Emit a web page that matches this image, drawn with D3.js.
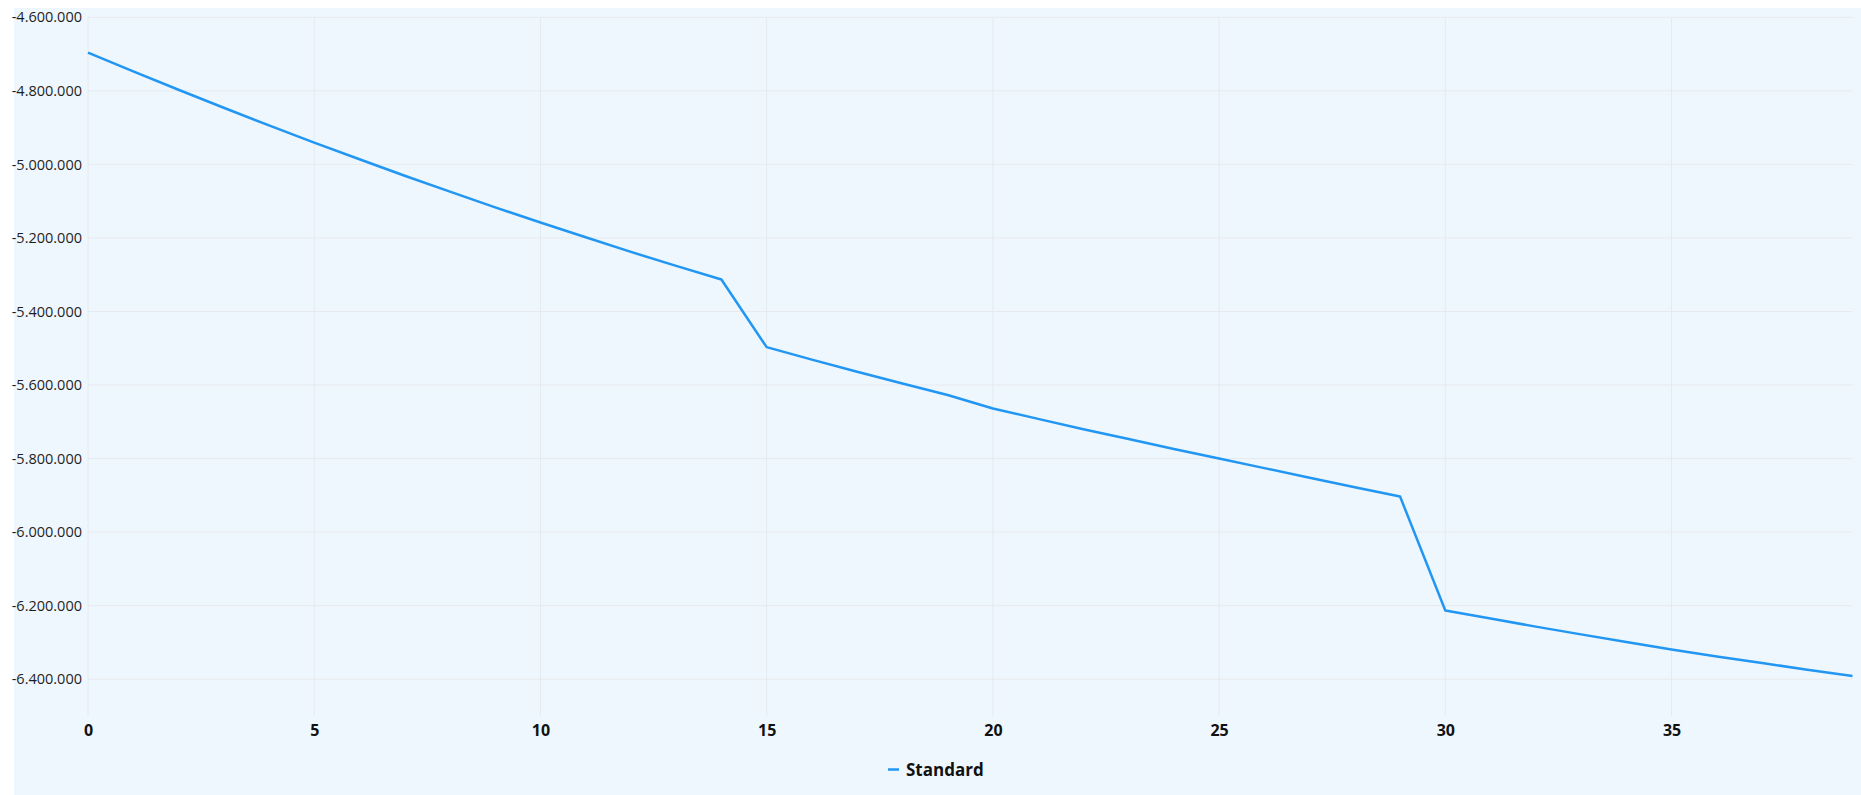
<!DOCTYPE html>
<html>
<head>
<meta charset="utf-8">
<script src="https://cdn.jsdelivr.net/npm/d3@7"></script>
<style>
  html, body { margin: 0; padding: 0; background: #ffffff; }
  svg { display: block; }
</style>
</head>
<body>
<svg id="chart" width="1861" height="795"></svg>
<script>
// ---- data ----
const seriesName = "Standard";
const periods = [0,1,2,3,4,5,6,7,8,9,10,11,12,13,14,15,16,17,18,19,20,21,22,23,24,25,26,27,28,29,30,31,32,33,34,35,36,37,38,39];
const standardValues = [
  -4696000, -4747000, -4797000, -4846000, -4894000, -4941000, -4986000, -5031000, -5074000, -5117000,
  -5158000, -5198000, -5238000, -5276000, -5313000, -5497000, -5531000, -5564000, -5596000, -5627000,
  -5664000, -5692000, -5720000, -5747000, -5774000, -5800000, -5826000, -5852000, -5878000, -5903000,
  -6213000, -6235000, -6257000, -6278000, -6299000, -6319000, -6338000, -6356000, -6374000, -6391000
];
const yTicks = [-4600000, -4800000, -5000000, -5200000, -5400000, -5600000, -5800000, -6000000, -6200000, -6400000];
const xTicks = [0, 5, 10, 15, 20, 25, 30, 35];
const yDomain = [-6500000, -4600000];
const xDomain = [0, 39];

// ---- layout ----
const W = 1861, H = 795;
const plot = { left: 88, right: 1852.5, top: 17.3, bottom: 716 };
const lineColor = "#2196F3";
const gridColor = "#e6eaee";
const font = "'Open Sans', 'Noto Sans', sans-serif";

const svg = d3.select("#chart");

svg.append("rect")
  .attr("x", 14).attr("y", 8)
  .attr("width", W - 14).attr("height", H - 8)
  .attr("fill", "#eff7fe");

const x = d3.scaleLinear().domain(xDomain).range([plot.left, plot.right]);
const y = d3.scaleLinear().domain(yDomain).range([plot.bottom, plot.top]);

const loc = d3.formatLocale({ decimal: ",", thousands: ".", grouping: [3], currency: ["", ""], minus: "-" });
const fmt = loc.format(",d");

// horizontal grid
svg.append("g")
  .selectAll("line")
  .data(yTicks)
  .join("line")
  .attr("x1", plot.left).attr("x2", plot.right)
  .attr("y1", d => y(d)).attr("y2", d => y(d))
  .attr("stroke", gridColor).attr("stroke-width", 1);

// vertical grid
svg.append("g")
  .selectAll("line")
  .data(xTicks)
  .join("line")
  .attr("x1", d => x(d)).attr("x2", d => x(d))
  .attr("y1", plot.top).attr("y2", plot.bottom)
  .attr("stroke", gridColor).attr("stroke-width", 1);

// y axis labels
const yAxis = d3.axisLeft(y).tickValues(yTicks).tickFormat(fmt).tickSize(0).tickPadding(6);
const gy = svg.append("g").attr("transform", `translate(${plot.left},0)`).call(yAxis);
gy.select(".domain").remove();
gy.selectAll("text")
  .attr("font-family", font).attr("font-size", 14.5).attr("fill", "#1f1f1f");

// x axis labels
const xAxis = d3.axisBottom(x).tickValues(xTicks).tickFormat(d3.format("d")).tickSize(0).tickPadding(9);
const gx = svg.append("g").attr("transform", `translate(0,${plot.bottom})`).call(xAxis);
gx.select(".domain").remove();
gx.selectAll("text")
  .attr("font-family", font).attr("font-size", 16).attr("font-weight", "bold").attr("fill", "#111");

// line
const data = periods.map((p, i) => ({ p, v: standardValues[i] }));
svg.append("path")
  .datum(data)
  .attr("fill", "none")
  .attr("stroke", lineColor)
  .attr("stroke-width", 2.5)
  .attr("stroke-linejoin", "round")
  .attr("d", d3.line().x(d => x(d.p)).y(d => y(d.v)));

// legend
const lg = svg.append("g");
lg.append("line")
  .attr("x1", 888).attr("x2", 899).attr("y1", 769.5).attr("y2", 769.5)
  .attr("stroke", lineColor).attr("stroke-width", 2.5);
lg.append("text")
  .attr("x", 906).attr("y", 770)
  .attr("dy", "0.35em")
  .attr("font-family", font).attr("font-size", 17).attr("font-weight", "bold").attr("fill", "#111")
  .text(seriesName);
</script>
</body>
</html>
